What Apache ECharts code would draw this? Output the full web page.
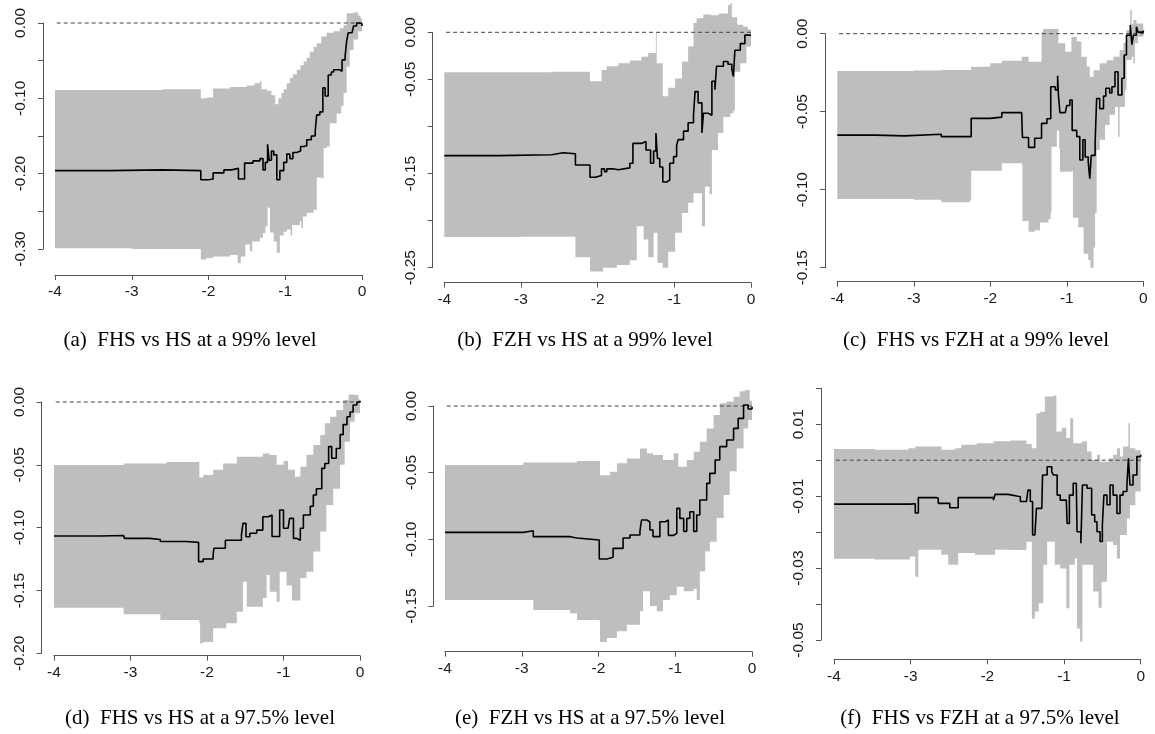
<!DOCTYPE html>
<html>
<head>
<meta charset="utf-8">
<script src="https://cdn.jsdelivr.net/npm/echarts@6/dist/echarts.min.js"></script>
<style>
html, body { margin: 0; padding: 0; background: #fff; }
#chart { width: 1155px; height: 734px; }
</style>
</head>
<body>
<div id="chart"></div>
<script>
// Tick positions on the horizontal axis (shared by every panel)
const xTicks = [-4, -3, -2, -1, 0];

// ---- (a) FHS vs HS, 99% ----
const aMid = [[-4,-0.196],[-3.3,-0.195],[-2.6,-0.196],[-2.10,-0.208],[-2.0,-0.207],[-1.94,-0.199],[-1.80,-0.195],[-1.70,-0.193],[-1.61,-0.207],[-1.53,-0.186],[-1.42,-0.183],[-1.33,-0.180],[-1.29,-0.195],[-1.26,-0.185],[-1.23,-0.161],[-1.21,-0.182],[-1.18,-0.170],[-1.15,-0.175],[-1.11,-0.208],[-1.07,-0.196],[-1.02,-0.185],[-0.98,-0.174],[-0.94,-0.180],[-0.90,-0.172],[-0.85,-0.170],[-0.80,-0.164],[-0.76,-0.163],[-0.72,-0.155],[-0.66,-0.150],[-0.61,-0.144],[-0.59,-0.122],[-0.55,-0.118],[-0.51,-0.086],[-0.48,-0.097],[-0.44,-0.069],[-0.40,-0.065],[-0.37,-0.062],[-0.29,-0.064],[-0.26,-0.049],[-0.22,-0.044],[-0.20,-0.024],[-0.18,-0.013],[-0.13,-0.011],[-0.11,-0.004],[-0.07,0.000],[-0.03,-0.001],[0,-0.004]];
const aUp = [[-4,-0.089],[-2.6,-0.088],[-2.10,-0.100],[-2.02,-0.099],[-1.94,-0.087],[-1.81,-0.087],[-1.72,-0.085],[-1.61,-0.085],[-1.50,-0.083],[-1.40,-0.080],[-1.33,-0.077],[-1.31,-0.088],[-1.24,-0.090],[-1.18,-0.096],[-1.13,-0.108],[-1.09,-0.100],[-1.05,-0.093],[-1.02,-0.088],[-0.98,-0.080],[-0.94,-0.073],[-0.90,-0.068],[-0.85,-0.062],[-0.80,-0.056],[-0.76,-0.051],[-0.72,-0.046],[-0.68,-0.038],[-0.63,-0.032],[-0.59,-0.027],[-0.53,-0.018],[-0.46,-0.013],[-0.37,-0.011],[-0.29,-0.007],[-0.24,-0.003],[-0.20,0.013],[-0.11,0.014],[-0.05,0.010],[-0.02,0.006],[0,0.004]];
const aLow = [[-4,-0.299],[-3,-0.300],[-2.10,-0.314],[-2.03,-0.312],[-1.94,-0.310],[-1.72,-0.308],[-1.62,-0.319],[-1.58,-0.310],[-1.52,-0.294],[-1.46,-0.303],[-1.43,-0.290],[-1.33,-0.285],[-1.29,-0.279],[-1.26,-0.270],[-1.23,-0.245],[-1.20,-0.278],[-1.15,-0.290],[-1.11,-0.305],[-1.07,-0.282],[-1.02,-0.277],[-0.98,-0.274],[-0.93,-0.282],[-0.91,-0.268],[-0.81,-0.263],[-0.79,-0.272],[-0.77,-0.257],[-0.72,-0.252],[-0.63,-0.248],[-0.59,-0.205],[-0.53,-0.206],[-0.50,-0.166],[-0.46,-0.164],[-0.42,-0.133],[-0.33,-0.120],[-0.27,-0.110],[-0.24,-0.093],[-0.20,-0.058],[-0.16,-0.036],[-0.11,-0.022],[-0.05,-0.011],[0,-0.007]];

// ---- (b) FZH vs HS, 99% ----
const bMid = [[-4,-0.131],[-3.3,-0.130],[-2.6,-0.128],[-2.45,-0.129],[-2.29,-0.141],[-2.10,-0.154],[-2.03,-0.152],[-1.95,-0.145],[-1.91,-0.148],[-1.88,-0.145],[-1.80,-0.146],[-1.73,-0.144],[-1.58,-0.139],[-1.54,-0.118],[-1.43,-0.116],[-1.37,-0.125],[-1.31,-0.139],[-1.27,-0.126],[-1.24,-0.107],[-1.22,-0.134],[-1.19,-0.143],[-1.15,-0.159],[-1.10,-0.157],[-1.06,-0.139],[-1.01,-0.132],[-0.97,-0.120],[-0.95,-0.114],[-0.88,-0.105],[-0.82,-0.096],[-0.75,-0.088],[-0.73,-0.063],[-0.69,-0.075],[-0.64,-0.107],[-0.62,-0.086],[-0.56,-0.088],[-0.51,-0.052],[-0.47,-0.061],[-0.45,-0.036],[-0.36,-0.031],[-0.30,-0.034],[-0.25,-0.039],[-0.23,-0.047],[-0.21,-0.019],[-0.14,-0.012],[-0.08,-0.003],[0,-0.003]];
const bUp = [[-4,-0.0425],[-2.6,-0.042],[-2.10,-0.052],[-1.95,-0.040],[-1.88,-0.036],[-1.73,-0.033],[-1.58,-0.030],[-1.43,-0.026],[-1.34,-0.022],[-1.24,0.000],[-1.23,-0.033],[-1.15,-0.068],[-1.08,-0.059],[-0.99,-0.049],[-0.90,-0.031],[-0.82,-0.015],[-0.75,0.010],[-0.71,0.015],[-0.62,0.019],[-0.52,0.018],[-0.42,0.020],[-0.30,0.029],[-0.27,0.031],[-0.25,0.016],[-0.18,0.008],[-0.10,0.006],[-0.04,0.003],[0,0.001]];
const bLow = [[-4,-0.2175],[-3,-0.217],[-2.29,-0.239],[-2.10,-0.254],[-1.93,-0.250],[-1.75,-0.247],[-1.58,-0.242],[-1.49,-0.206],[-1.40,-0.220],[-1.34,-0.239],[-1.27,-0.213],[-1.22,-0.245],[-1.15,-0.250],[-1.08,-0.233],[-0.99,-0.213],[-0.90,-0.192],[-0.82,-0.181],[-0.75,-0.171],[-0.64,-0.206],[-0.60,-0.164],[-0.54,-0.172],[-0.51,-0.125],[-0.43,-0.107],[-0.36,-0.090],[-0.27,-0.086],[-0.23,-0.083],[-0.21,-0.042],[-0.14,-0.033],[-0.06,-0.015],[0,-0.010]];

// ---- (c) FHS vs FZH, 99% ----
const cMid = [[-4,-0.065],[-3.5,-0.0655],[-3.12,-0.0645],[-2.64,-0.066],[-2.25,-0.0543],[-2.0,-0.0535],[-1.85,-0.0506],[-1.59,-0.0515],[-1.58,-0.0665],[-1.50,-0.0729],[-1.42,-0.067],[-1.33,-0.0575],[-1.26,-0.0545],[-1.21,-0.034],[-1.15,-0.036],[-1.12,-0.027],[-1.11,-0.039],[-1.09,-0.0506],[-1.02,-0.0505],[-1.00,-0.046],[-0.96,-0.0425],[-0.93,-0.062],[-0.87,-0.066],[-0.83,-0.081],[-0.79,-0.068],[-0.76,-0.079],[-0.72,-0.082],[-0.70,-0.093],[-0.68,-0.078],[-0.63,-0.070],[-0.61,-0.0415],[-0.57,-0.048],[-0.52,-0.040],[-0.49,-0.035],[-0.44,-0.038],[-0.41,-0.034],[-0.37,-0.0244],[-0.33,-0.0393],[-0.28,-0.0286],[-0.25,-0.0137],[-0.22,-0.001],[-0.17,0.0056],[-0.15,-0.007],[-0.13,-0.001],[-0.09,0.0045],[-0.07,0.001],[0,0.002]];
const cUp = [[-4,-0.0239],[-3.0,-0.0236],[-2.64,-0.0232],[-2.25,-0.0212],[-2.0,-0.019],[-1.85,-0.0173],[-1.59,-0.0147],[-1.50,-0.018],[-1.33,0.0013],[-1.31,0.003],[-1.13,0.0034],[-1.11,-0.0062],[-1.02,-0.0115],[-0.94,-0.0019],[-0.87,-0.005],[-0.81,-0.0147],[-0.74,-0.021],[-0.70,-0.0276],[-0.65,-0.0235],[-0.57,-0.019],[-0.48,-0.017],[-0.39,-0.0147],[-0.31,-0.0105],[-0.26,-0.006],[-0.22,0.0023],[-0.17,0.0152],[-0.15,0.006],[-0.13,0.0088],[-0.09,0.0066],[0,0.0035]];
const cLow = [[-4,-0.106],[-3.0,-0.1065],[-2.64,-0.108],[-2.27,-0.107],[-2.25,-0.0878],[-1.85,-0.083],[-1.59,-0.084],[-1.58,-0.120],[-1.50,-0.127],[-1.42,-0.126],[-1.35,-0.121],[-1.24,-0.119],[-1.21,-0.114],[-1.20,-0.0724],[-1.13,-0.062],[-1.10,-0.0735],[-1.09,-0.0885],[-0.94,-0.088],[-0.92,-0.118],[-0.85,-0.124],[-0.78,-0.141],[-0.72,-0.145],[-0.69,-0.150],[-0.65,-0.137],[-0.63,-0.115],[-0.61,-0.0746],[-0.57,-0.068],[-0.50,-0.0585],[-0.44,-0.052],[-0.37,-0.047],[-0.33,-0.066],[-0.31,-0.047],[-0.24,-0.036],[-0.22,-0.0169],[-0.15,-0.0147],[-0.13,-0.019],[-0.11,-0.0062],[-0.07,-0.002],[0,-0.001]];

// ---- (d) FHS vs HS, 97.5% ----
const dMid = [[-4,-0.1066],[-3.40,-0.1063],[-3.09,-0.1058],[-3.08,-0.1085],[-2.75,-0.1094],[-2.61,-0.111],[-2.27,-0.1117],[-2.11,-0.127],[-2.05,-0.125],[-1.92,-0.1217],[-1.91,-0.1164],[-1.76,-0.110],[-1.55,-0.1058],[-1.53,-0.0966],[-1.49,-0.1072],[-1.44,-0.1045],[-1.35,-0.102],[-1.27,-0.0913],[-1.20,-0.090],[-1.15,-0.107],[-1.09,-0.107],[-1.05,-0.086],[-1.00,-0.1005],[-0.94,-0.102],[-0.92,-0.0926],[-0.87,-0.1085],[-0.83,-0.110],[-0.78,-0.1005],[-0.74,-0.0899],[-0.65,-0.083],[-0.61,-0.074],[-0.57,-0.069],[-0.50,-0.0528],[-0.46,-0.049],[-0.41,-0.0355],[-0.37,-0.0448],[-0.31,-0.037],[-0.26,-0.026],[-0.22,-0.018],[-0.17,-0.0117],[-0.13,-0.008],[-0.09,-0.0024],[-0.04,0.0],[0,0.001]];
const dUp = [[-4,-0.0501],[-3.09,-0.049],[-2.53,-0.0477],[-2.11,-0.0470],[-2.10,-0.060],[-2.05,-0.058],[-1.92,-0.054],[-1.79,-0.049],[-1.61,-0.0435],[-1.44,-0.0435],[-1.27,-0.041],[-1.18,-0.0422],[-1.09,-0.050],[-1.00,-0.047],[-0.94,-0.054],[-0.85,-0.0594],[-0.78,-0.0515],[-0.70,-0.042],[-0.61,-0.0342],[-0.52,-0.0263],[-0.46,-0.017],[-0.39,-0.0117],[-0.31,-0.0064],[-0.22,0.0016],[-0.15,0.006],[-0.07,0.0055],[-0.02,0.002],[0,0.001]];
const dLow = [[-4,-0.1637],[-3.09,-0.169],[-2.61,-0.1735],[-2.10,-0.176],[-2.09,-0.192],[-2.05,-0.191],[-1.92,-0.180],[-1.75,-0.176],[-1.61,-0.167],[-1.53,-0.143],[-1.48,-0.163],[-1.27,-0.156],[-1.22,-0.1377],[-1.18,-0.151],[-1.09,-0.159],[-1.05,-0.135],[-0.96,-0.146],[-0.89,-0.158],[-0.78,-0.140],[-0.70,-0.135],[-0.61,-0.119],[-0.52,-0.103],[-0.44,-0.082],[-0.35,-0.069],[-0.26,-0.050],[-0.20,-0.0316],[-0.13,-0.0157],[-0.07,-0.009],[0,-0.005]];

// ---- (e) FZH vs HS, 97.5% ----
const eMid = [[-4,-0.0948],[-2.98,-0.0935],[-2.85,-0.098],[-2.37,-0.099],[-2.28,-0.1005],[-1.99,-0.1148],[-1.89,-0.1135],[-1.81,-0.1068],[-1.68,-0.099],[-1.59,-0.0968],[-1.46,-0.094],[-1.44,-0.0855],[-1.37,-0.087],[-1.33,-0.093],[-1.29,-0.098],[-1.20,-0.0868],[-1.13,-0.0855],[-1.09,-0.097],[-1.02,-0.0955],[-0.98,-0.0768],[-0.94,-0.0843],[-0.89,-0.094],[-0.85,-0.0843],[-0.81,-0.0793],[-0.76,-0.094],[-0.72,-0.0818],[-0.68,-0.0705],[-0.59,-0.058],[-0.55,-0.0505],[-0.48,-0.0405],[-0.42,-0.0305],[-0.33,-0.0255],[-0.24,-0.0168],[-0.18,-0.0093],[-0.11,0.0008],[-0.05,-0.0023],[0,-0.0005]];
const eUp = [[-4,-0.0443],[-2.98,-0.0423],[-2.28,-0.0413],[-1.99,-0.0413],[-1.98,-0.052],[-1.85,-0.0493],[-1.76,-0.043],[-1.63,-0.0393],[-1.46,-0.0318],[-1.37,-0.0355],[-1.29,-0.0368],[-1.16,-0.0405],[-1.02,-0.0355],[-0.96,-0.0455],[-0.85,-0.0405],[-0.76,-0.0343],[-0.68,-0.0268],[-0.59,-0.0168],[-0.50,-0.0068],[-0.42,0.002],[-0.33,0.0033],[-0.24,0.007],[-0.16,0.011],[-0.09,0.012],[-0.03,0.004],[0,0.002]];
const eLow = [[-4,-0.1455],[-2.98,-0.1455],[-2.85,-0.153],[-2.37,-0.1555],[-2.28,-0.1605],[-1.99,-0.161],[-1.98,-0.177],[-1.89,-0.174],[-1.76,-0.169],[-1.63,-0.164],[-1.46,-0.154],[-1.42,-0.139],[-1.33,-0.150],[-1.24,-0.154],[-1.16,-0.1455],[-1.07,-0.142],[-0.98,-0.1355],[-0.89,-0.139],[-0.76,-0.137],[-0.72,-0.1455],[-0.68,-0.124],[-0.61,-0.109],[-0.55,-0.1018],[-0.46,-0.084],[-0.37,-0.0668],[-0.29,-0.049],[-0.20,-0.0318],[-0.11,-0.0168],[-0.05,-0.0105],[0,-0.0068]];

// ---- (f) FHS vs FZH, 97.5% ----
const fMid = [[-4,-0.0122],[-3.47,-0.0122],[-3.01,-0.0121],[-2.94,-0.0147],[-2.90,-0.0104],[-2.67,-0.0106],[-2.64,-0.012],[-2.49,-0.0132],[-2.38,-0.0104],[-2.16,-0.0104],[-1.92,-0.0111],[-1.90,-0.0095],[-1.73,-0.0100],[-1.60,-0.0101],[-1.57,-0.0115],[-1.49,-0.0110],[-1.47,-0.0083],[-1.44,-0.0115],[-1.41,-0.0208],[-1.38,-0.0208],[-1.36,-0.0134],[-1.29,-0.0134],[-1.28,-0.0041],[-1.22,-0.0018],[-1.16,-0.0032],[-1.14,-0.0041],[-1.09,-0.0097],[-1.05,-0.0111],[-0.97,-0.0111],[-0.96,-0.0176],[-0.93,-0.0097],[-0.88,-0.0064],[-0.84,-0.0069],[-0.83,-0.0199],[-0.78,-0.0231],[-0.76,-0.0069],[-0.70,-0.0078],[-0.64,-0.0152],[-0.60,-0.0171],[-0.57,-0.0199],[-0.53,-0.0226],[-0.50,-0.0180],[-0.48,-0.0097],[-0.44,-0.0124],[-0.40,-0.0069],[-0.36,-0.0097],[-0.31,-0.0148],[-0.27,-0.0097],[-0.23,-0.0087],[-0.18,-0.0069],[-0.16,0.0005],[-0.14,-0.0069],[-0.10,-0.0041],[-0.05,0.001],[0,0.0015]];
const fUp = [[-4,0.0031],[-3.47,0.0029],[-3.03,0.0033],[-2.94,0.0038],[-2.60,0.0029],[-2.42,0.0033],[-2.34,0.0043],[-2.14,0.0047],[-1.92,0.0053],[-1.70,0.0055],[-1.49,0.0045],[-1.42,0.0033],[-1.36,0.013],[-1.31,0.0135],[-1.25,0.0177],[-1.14,0.018],[-1.10,0.008],[-1.03,0.009],[-0.97,0.0062],[-0.92,0.0117],[-0.88,0.0047],[-0.77,0.0052],[-0.70,0.0024],[-0.64,0.0001],[-0.57,0.0015],[-0.53,-0.0004],[-0.42,0.0005],[-0.36,0.0015],[-0.31,0.0033],[-0.27,0.001],[-0.23,0.0038],[-0.16,0.0103],[-0.14,0.0033],[-0.07,0.0028],[0,0.0024]];
const fLow = [[-4,-0.0274],[-3.47,-0.0276],[-3.01,-0.0268],[-2.94,-0.0324],[-2.90,-0.0249],[-2.60,-0.0263],[-2.51,-0.0291],[-2.38,-0.0258],[-2.16,-0.0263],[-1.90,-0.0249],[-1.70,-0.0250],[-1.49,-0.0227],[-1.42,-0.044],[-1.38,-0.0421],[-1.33,-0.0398],[-1.27,-0.0291],[-1.22,-0.0227],[-1.12,-0.0291],[-1.05,-0.0301],[-0.97,-0.0412],[-0.93,-0.0291],[-0.86,-0.0273],[-0.83,-0.0468],[-0.79,-0.0504],[-0.76,-0.0291],[-0.66,-0.0291],[-0.62,-0.0365],[-0.55,-0.041],[-0.51,-0.0338],[-0.44,-0.0227],[-0.36,-0.0236],[-0.31,-0.0273],[-0.27,-0.0208],[-0.18,-0.0162],[-0.14,-0.0125],[-0.07,-0.0087],[0,-0.0060]];

// Labelled y ticks per panel (the other ticks stay unlabelled)
const aYLabels = ['0.00', '-0.10', '-0.20', '-0.30'];
const bYLabels = ['0.00', '-0.05', '-0.15', '-0.25'];
const cYLabels = ['0.00', '-0.05', '-0.10', '-0.15'];
const dYLabels = ['0.00', '-0.05', '-0.10', '-0.15', '-0.20'];
const eYLabels = ['0.00', '-0.05', '-0.10', '-0.15'];
const fYLabels = ['0.01', '-0.01', '-0.03', '-0.05'];

const captions = [
  '(a)\u2002FHS vs HS at a 99% level',
  '(b)\u2002FZH vs HS at a 99% level',
  '(c)\u2002FHS vs FZH at a 99% level',
  '(d)\u2002FHS vs HS at a 97.5% level',
  '(e)\u2002FZH vs HS at a 97.5% level',
  '(f)\u2002FHS vs FZH at a 97.5% level'
];

// Panel layout: plot box (left, top, width, height in px), axis offsets, value ranges
const panels = [
  { mid: aMid, up: aUp, low: aLow, yMin: -0.30, yMax: 0,    yStep: 0.05, yLabels: aYLabels, box: [55, 23, 307, 226],    xOff: 26,   yOff: 12,   cap: [190, 340] },
  { mid: bMid, up: bUp, low: bLow, yMin: -0.25, yMax: 0,    yStep: 0.05, yLabels: bYLabels, box: [444.3, 32.3, 306.7, 235.4], xOff: 15, yOff: 11.6, cap: [585, 340] },
  { mid: cMid, up: cUp, low: cLow, yMin: -0.15, yMax: 0,    yStep: 0.05, yLabels: cYLabels, box: [837.3, 33.7, 306, 234],  xOff: 14,   yOff: 12.3, cap: [976, 340] },
  { mid: dMid, up: dUp, low: dLow, yMin: -0.20, yMax: 0,    yStep: 0.05, yLabels: dYLabels, box: [54, 402, 306, 251.3],   xOff: 2.4,  yOff: 12.3, cap: [200, 718] },
  { mid: eMid, up: eUp, low: eLow, yMin: -0.15, yMax: 0,    yStep: 0.05, yLabels: eYLabels, box: [445, 406, 307, 200],    xOff: 45.7, yOff: 11.7, cap: [590, 718] },
  { mid: fMid, up: fUp, low: fLow, yMin: -0.05, yMax: 0.02, yStep: 0.01, yLabels: fYLabels, box: [834, 388.3, 306.7, 251.7], xOff: 19.3, yOff: 13, cap: [980, 718] }
];

const AXIS_COLOR = '#555';
const TEXT_COLOR = '#1a1a1a';
const BAND_COLOR = '#bebebe';
const TICK_FONT = 15.5;

// Stepped polygon between the upper and lower bounds
function bandRenderer(up, low) {
  return function (params, api) {
    const top = [];
    for (let i = 0; i < up.length; i++) {
      top.push(api.coord(up[i]));
      if (i < up.length - 1) top.push(api.coord([up[i + 1][0], up[i][1]]));
    }
    const bottom = [];
    for (let i = 0; i < low.length; i++) {
      bottom.push(api.coord(low[i]));
      if (i < low.length - 1) bottom.push(api.coord([low[i + 1][0], low[i][1]]));
    }
    return {
      type: 'polygon',
      shape: { points: top.concat(bottom.reverse()) },
      style: { fill: BAND_COLOR }
    };
  };
}

const grid = [], xAxis = [], yAxis = [], series = [], graphic = [];

panels.forEach((p, k) => {
  grid.push({ left: p.box[0], top: p.box[1], width: p.box[2], height: p.box[3], containLabel: false });
  xAxis.push({
    gridIndex: k, type: 'value', position: 'bottom',
    min: xTicks[0], max: xTicks[xTicks.length - 1], interval: 1,
    offset: p.xOff,
    axisLine: { show: true, onZero: false, lineStyle: { color: AXIS_COLOR, width: 1 } },
    axisTick: { show: true, length: 5, lineStyle: { color: AXIS_COLOR, width: 1 } },
    axisLabel: { show: true, margin: 9, fontSize: TICK_FONT, fontFamily: 'Liberation Sans', color: TEXT_COLOR,
                 showMinLabel: true, showMaxLabel: true },
    splitLine: { show: false }
  });
  const shown = p.yLabels;
  yAxis.push({
    gridIndex: k, type: 'value', position: 'left',
    min: p.yMin, max: p.yMax, interval: p.yStep,
    offset: p.yOff,
    axisLine: { show: true, onZero: false, lineStyle: { color: AXIS_COLOR, width: 1 } },
    axisTick: { show: true, length: 5, lineStyle: { color: AXIS_COLOR, width: 1 } },
    axisLabel: {
      show: true, rotate: 90, margin: 14, fontSize: TICK_FONT, fontFamily: 'Liberation Sans', color: TEXT_COLOR,
      showMinLabel: true, showMaxLabel: true,
      formatter: function (v) {
        const s = (Math.round(v * 100) / 100).toFixed(2);
        return shown.indexOf(s) >= 0 ? s : '';
      }
    },
    splitLine: { show: false }
  });
  series.push({
    type: 'custom', xAxisIndex: k, yAxisIndex: k, silent: true, z: 1,
    renderItem: bandRenderer(p.up, p.low),
    data: [p.up[0]]
  });
  series.push({
    type: 'line', xAxisIndex: k, yAxisIndex: k, silent: true, z: 2,
    data: [[-4.16, 0], [0.16, 0]], clip: false, symbol: 'none',
    lineStyle: { color: '#444', width: 1, type: [4, 3] }
  });
  series.push({
    type: 'line', xAxisIndex: k, yAxisIndex: k, silent: true, z: 3,
    data: p.mid, step: 'end', clip: false, symbol: 'none',
    lineStyle: { color: '#000', width: 1.6 }
  });
  graphic.push({
    type: 'text', x: p.cap[0], y: p.cap[1], silent: true,
    style: { text: captions[k], font: '21px "Liberation Serif"', fill: '#000', align: 'center', verticalAlign: 'middle' }
  });
});

const chart = echarts.init(document.getElementById('chart'), null, { renderer: 'canvas' });
chart.setOption({ animation: false, backgroundColor: '#fff', grid, xAxis, yAxis, series, graphic });
</script>
</body>
</html>
